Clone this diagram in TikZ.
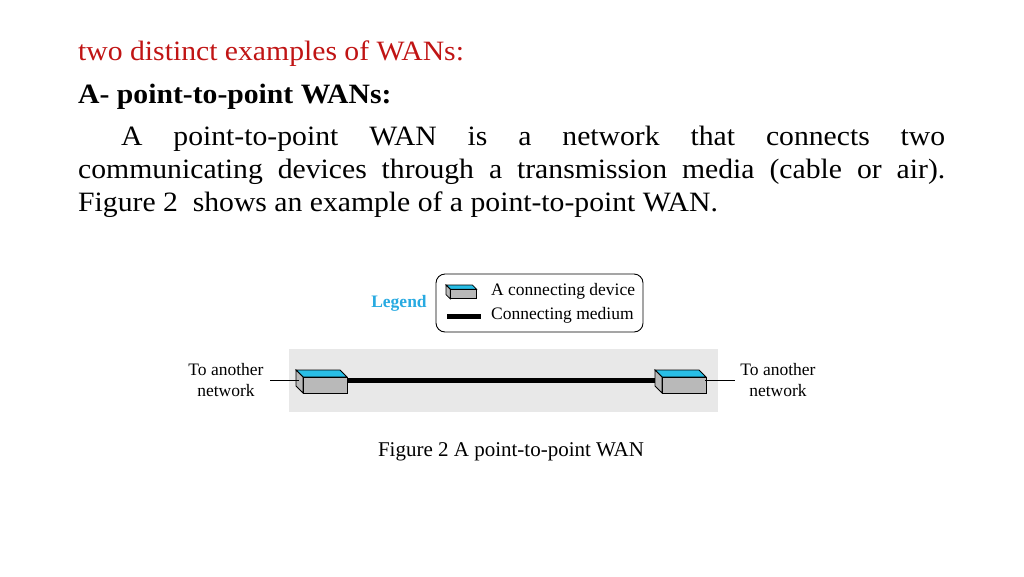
\documentclass[tikz,border=0pt]{standalone}
\usepackage{fontspec}
\setmainfont{Liberation Serif}
\newfontfamily\widefont[FakeStretch=1.06]{Liberation Serif}
\usetikzlibrary{positioning}
\definecolor{titlered}{RGB}{192,20,20}
\definecolor{devblue}{RGB}{40,190,230}
\definecolor{legblue}{RGB}{40,170,225}
\definecolor{bggray}{RGB}{232,232,232}
\tikzset{
  body/.style={font=\widefont\fontsize{28}{33}\selectfont, inner sep=0pt},
  small/.style={font=\fontsize{17.5}{21}\selectfont, align=center, inner sep=1pt},
  medium/.style={line width=5pt},
  wire/.style={line width=1pt},
  pics/device/.style={code={
    % top, side and front faces
    \draw[fill=devblue, line width=0.8pt] (0,0) -- (44,0) -- (51,7) -- (7,7) -- cycle;
    \draw[fill=gray!55, line width=0.8pt] (0,0) -- (7,7) -- (7,23) -- (0,16) -- cycle;
    \draw[fill=gray!55, line width=0.8pt] (7,7) rectangle (51,23);
  }}
}
\begin{document}
\begin{tikzpicture}[x=1pt,y=-1pt]
  \useasboundingbox (0,0) rectangle (1024,576);
  % heading and text
  \node[body, anchor=base west, text=titlered] (title) at (78,60) {two distinct examples of WANs:};
  \node[body, anchor=base west, font=\widefont\fontsize{28}{33}\selectfont\bfseries] (sub) at (78,103) {A- point-to-point WANs:};
  \node[body, anchor=base west, text width=867pt, align=justify] (para) at (78,145)
    {\hspace*{43pt}A point-to-point WAN is a network that connects two\linebreak communicating devices through a transmission media (cable or air).\linebreak Figure 2~ shows an example of a point-to-point WAN.};
  % legend
  \draw[rounded corners=9pt, line width=0.9pt] (436,274) rectangle (643,332);
  \node[small, text=legblue, font=\fontsize{17.5}{21}\selectfont\bfseries] (legend) at (399,303) {Legend};
  \pic[scale=0.6] at (446,285) {device};
  \node[small, anchor=west] (devtext) at (490,291) {A connecting device};
  \draw[medium] (447,316) -- (481,316);
  \node[small, anchor=west] (medtext) at (490,315) {Connecting medium};
  % WAN
  \fill[bggray] (289,349) rectangle (718,412);
  \pic at (296,370) {device};
  \pic at (655,370) {device};
  \coordinate (devL) at (347,380);
  \coordinate (devR) at (655,380);
  \coordinate (endL) at (270,380);
  \coordinate (endR) at (735,380);
  \coordinate (inL) at (299,380);
  \coordinate (inR) at (705,380);
  \draw[medium] (devL) -- (devR);
  \draw[wire] (endL) -- (inL);
  \draw[wire] (inR) -- (endR);
  \node[small] (netL) at (226,380) {To another\\network};
  \node[small] (netR) at (778,380) {To another\\network};
  % caption
  \node[font=\fontsize{21}{25}\selectfont] (cap) at (511,452) {Figure 2 A point-to-point WAN};
\end{tikzpicture}
\end{document}
